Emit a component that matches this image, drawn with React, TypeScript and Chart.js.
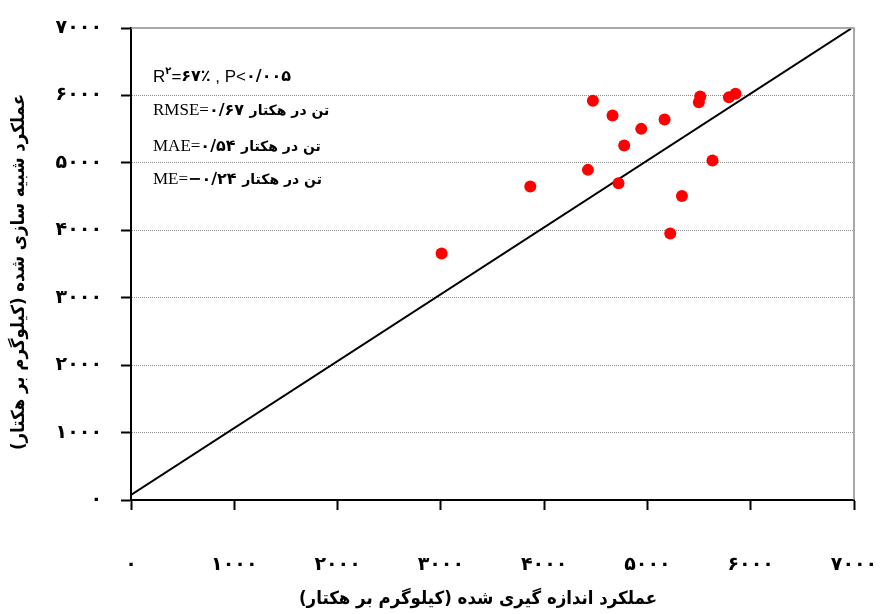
import React, { useEffect, useRef } from "react";
import { Chart, registerables } from "chart.js";

Chart.register(...registerables);

// Measured yield (kg/ha) and simulated yield (kg/ha)
const measured = [3007, 3866, 4424, 4472, 4662, 4720, 4775, 4940, 5166, 5221, 5334, 5498, 5511, 5630, 5789, 5853];
const simulated = [3654, 4648, 4896, 5920, 5702, 4699, 5257, 5504, 5643, 3951, 4510, 5900, 5984, 5035, 5974, 6024];

// 1:1 reference line
const lineX = [0, 6970];
const lineY = [75, 6990];

const axisMin = 0;
const axisMax = 7000;
const axisStep = 1000;

const xTitle = "عملکرد اندازه گیری شده (کیلوگرم بر هکتار)";
const yTitle = "عملکرد شبیه سازی شده (کیلوگرم بر هکتار)";
const unitText = "تن در هکتار";

const FA = '"DejaVu Sans", sans-serif';
const faDigits = "۰۱۲۳۴۵۶۷۸۹";
const toFa = (v: number | string) => String(v).replace(/\d/g, (d) => faDigits[+d]);

type Seg = { t: string; f: string; dy?: number };

function drawSegs(ctx: CanvasRenderingContext2D, x: number, y: number, segs: Seg[]) {
  let cx = x;
  for (const s of segs) {
    ctx.font = s.f;
    ctx.fillText(s.t, cx, y + (s.dy || 0));
    cx += ctx.measureText(s.t).width;
  }
}

const overlayPlugin = {
  id: "overlay",
  afterDraw(chart: any) {
    const ctx: CanvasRenderingContext2D = chart.ctx;
    const { left, right, top, bottom } = chart.chartArea;
    ctx.save();
    // gray frame top & right
    ctx.strokeStyle = "#8c8c8c";
    ctx.lineWidth = 1.5;
    ctx.setLineDash([]);
    ctx.beginPath();
    ctx.moveTo(left, top);
    ctx.lineTo(right, top);
    ctx.lineTo(right, bottom);
    ctx.stroke();

    // annotations
    ctx.fillStyle = "#000";
    ctx.textBaseline = "middle";
    ctx.textAlign = "left";
    ctx.direction = "ltr";
    const sans = '17px "Liberation Sans", Arial, sans-serif';
    const serif = '17px "Liberation Serif", "Times New Roman", serif';
    const bd = "bold 16px " + FA;
    const bu = "bold 14px " + FA;
    drawSegs(ctx, 153, 77, [
      { t: "R", f: sans },
      { t: toFa(2), f: "bold 10px " + FA, dy: -6 },
      { t: "=", f: sans },
      { t: toFa(67) + "٪", f: bd },
      { t: " , P<", f: sans },
      { t: toFa("0/005"), f: bd },
    ]);
    drawSegs(ctx, 153, 111, [
      { t: "RMSE=", f: serif },
      { t: toFa("0/67"), f: bd },
      { t: " ", f: bd },
      { t: unitText, f: bu },
    ]);
    drawSegs(ctx, 153, 147, [
      { t: "MAE=", f: serif },
      { t: toFa("0/54"), f: bd },
      { t: " ", f: bd },
      { t: unitText, f: bu },
    ]);
    drawSegs(ctx, 153, 180, [
      { t: "ME=", f: serif },
      { t: "−" + toFa("0/24"), f: bd },
      { t: " ", f: bd },
      { t: unitText, f: bu },
    ]);

    // axis titles
    ctx.font = "bold 18px " + FA;
    ctx.textAlign = "center";
    ctx.direction = "rtl";
    ctx.fillText(xTitle, 478, 599, 358);
    ctx.translate(19, 272);
    ctx.rotate(-Math.PI / 2);
    ctx.fillText(yTitle, 0, 0, 356);
    ctx.restore();
  },
};

export default function App() {
  const ref = useRef<HTMLCanvasElement>(null);
  useEffect(() => {
    if (!ref.current) return;
    const points = measured.map((x, i) => ({ x, y: simulated[i] }));
    const line = lineX.map((x, i) => ({ x, y: lineY[i] }));
    const tickFont = { family: FA, size: 19, weight: "bold" as const };
    const chart = new Chart(ref.current, {
      type: "scatter",
      data: {
        datasets: [
          {
            data: points,
            backgroundColor: "#ff0000",
            borderWidth: 0,
            pointRadius: 6,
            pointHoverRadius: 6,
          },
          {
            data: line,
            showLine: true,
            borderColor: "#000",
            borderWidth: 2,
            pointRadius: 0,
            fill: false,
          } as any,
        ],
      },
      options: {
        animation: false,
        responsive: true,
        maintainAspectRatio: false,
        layout: { padding: { top: 28, right: 26, left: 0, bottom: 0 } },
        plugins: { legend: { display: false }, tooltip: { enabled: false } },
        scales: {
          x: {
            type: "linear",
            min: axisMin,
            max: axisMax,
            afterFit: (s: any) => {
              s.height = 114;
              s.paddingLeft = 0;
              s.paddingRight = 0;
            },
            ticks: {
              stepSize: axisStep,
              padding: 44,
              color: "#000",
              font: tickFont,
              maxRotation: 0,
              callback: (v: any) => toFa(v),
            },
            grid: {
              drawOnChartArea: false,
              color: "rgba(0,0,0,0)",
              tickColor: "#000",
              tickLength: 10,
              tickWidth: 2,
            },
            border: { color: "#000", width: 2 },
          },
          y: {
            type: "linear",
            min: axisMin,
            max: axisMax,
            afterFit: (s: any) => {
              s.width = 131;
              s.paddingTop = 0;
              s.paddingBottom = 0;
            },
            ticks: {
              stepSize: axisStep,
              padding: 19,
              color: "#000",
              font: tickFont,
              callback: (v: any) => toFa(v),
            },
            grid: {
              drawOnChartArea: true,
              color: (c: any) =>
                c.tick && (c.tick.value === axisMin || c.tick.value === axisMax) ? "rgba(0,0,0,0)" : "#8c8c8c",
              lineWidth: 1,
              tickColor: "#000",
              tickLength: 10,
              tickWidth: 2,
            },
            border: { color: "#000", width: 2, dash: [1, 1] } as any,
          },
        },
      },
      plugins: [overlayPlugin],
    });
    return () => chart.destroy();
  }, []);
  return (
    <div style={{ position: "fixed", left: 0, top: 0, width: 880, height: 614, background: "#fff" }}>
      <canvas ref={ref} />
    </div>
  );
}
